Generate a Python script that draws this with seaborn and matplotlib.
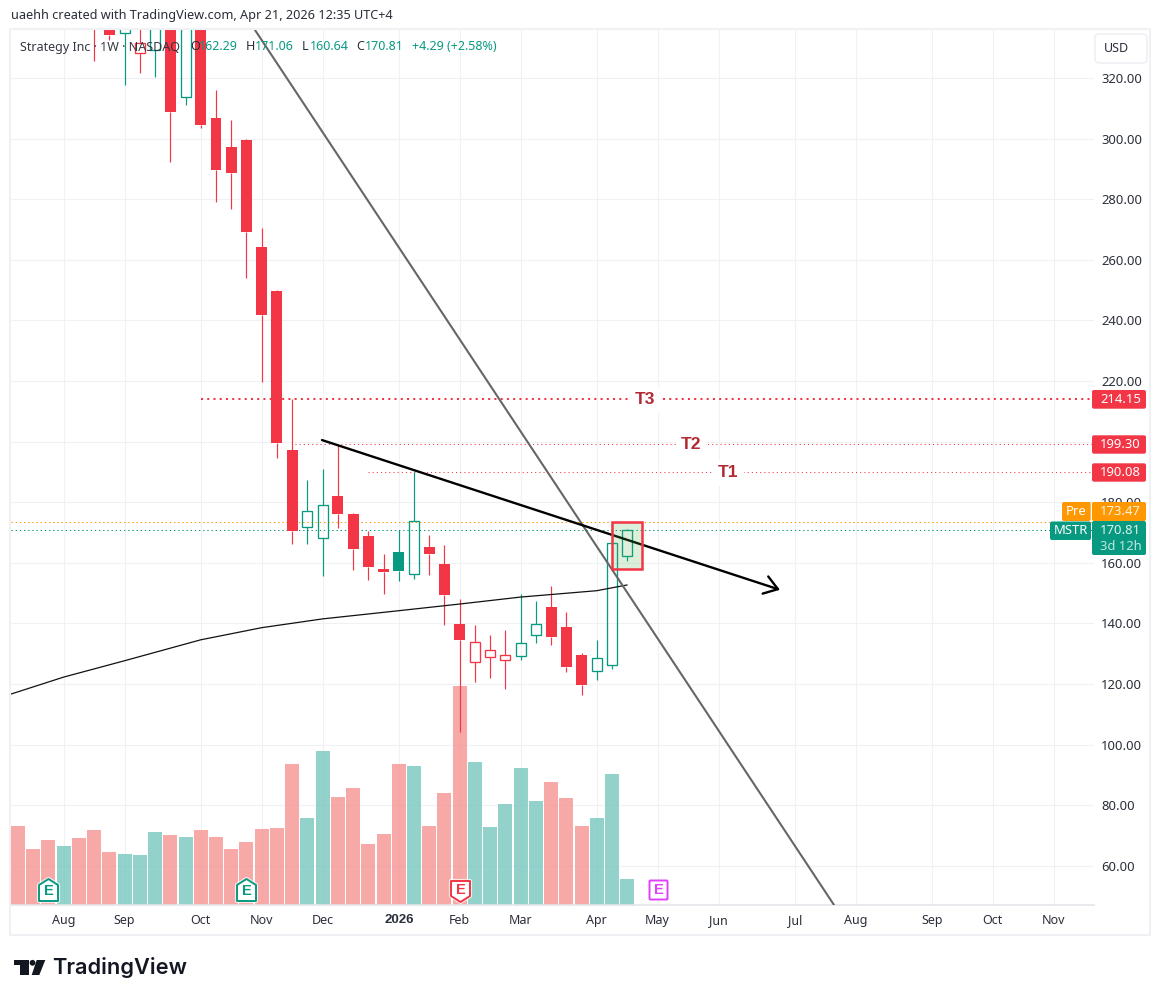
import matplotlib
matplotlib.use("Agg")
import matplotlib.pyplot as plt
from matplotlib.patches import Rectangle, Polygon, FancyBboxPatch, Circle
import pandas as pd
import seaborn as sns

W, H = 1161, 1001

# ---- data ----
vol_bar = list(range(41))
volume = [79, 56, 65, 59, 67, 75, 53, 51, 50, 73, 70, 68, 75, 68, 56, 63, 76, 77, 141, 87, 154,
          108, 117, 61, 71, 141, 139, 79, 112, 219, 143, 78, 101, 137, 104, 123, 107, 79, 87, 131, 26]
vol_dir = ["d","d","d","u","d","d","d","u","u","u","d","u","d","d","d","d","d","d","d","u","u",
           "d","d","d","d","d","u","d","d","d","u","u","u","u","u","d","d","d","u","u","u"]

candle_bar = list(range(5, 41))
opens = [345, 340, 334.7, 328.1, 329.2, 350, 313.6, 350, 306.8, 297.2, 299.5, 264.2, 249.7, 197.2,
         171.7, 168.1, 182.1, 176.1, 168.9, 158, 163.6, 156.2, 165.2, 159.6, 139.8, 127.4, 128.9,
         127.9, 129.2, 136.1, 145.4, 138.9, 129.6, 124.4, 126.4, 162.29]
closes = [338, 334.3, 338, 331.6, 345, 308.9, 350, 304.6, 289.6, 288.7, 269.3, 241.9, 199.6, 170.4,
          177, 179, 176.1, 164.6, 158.6, 157, 157.2, 173.7, 162.9, 149.4, 134.6, 133.8, 131.2,
          129.5, 133.5, 139.7, 135.6, 125.7, 119.7, 128.5, 166.5, 170.81]
highs = [350, 345, 345, 345, 350, 352, 352, 352, 316, 306.1, 299.7, 270.5, 250, 214.1,
         187.3, 191, 198.9, 176.4, 170.6, 162.9, 170.9, 190, 169.2, 165.9, 148.1, 139.5, 136.2,
         137.9, 149.7, 147.4, 152.4, 143.8, 130.3, 134.6, 173.1, 171.06]
lows = [325.6, 332.6, 317.8, 321.7, 320.4, 292.4, 311.2, 303.6, 279.2, 276.9, 254.1, 219.7, 194.6, 166.2,
        166.2, 155.8, 171.5, 157.7, 154.4, 149.7, 154, 154.7, 156, 139.5, 104.2, 120.7, 122.1,
        118.4, 128.1, 133.6, 132.9, 124, 116.4, 121.4, 125, 160.64]

ma_bar = [-0.46, 3, 7, 12, 16, 20, 25, 29, 33, 38, 40]
ma_val = [116.7, 122.3, 127.7, 134.6, 138.6, 141.5, 144.2, 146.4, 148.7, 150.8, 152.7]

grey_line_bar = [15.56, 53.58]
grey_line_val = [335.8, 47.1]
black_line_bar = [19.96, 50.03]
black_line_val = [200.5, 151.1]

t3_level, t2_level, t1_level = 214.15, 199.30, 190.08
pre_level, last_level = 173.47, 170.81
box_bar = [39.0, 40.97]
box_val = [158.0, 173.5]

price_ticks = [60, 80, 100, 120, 140, 160, 180, 220, 240, 260, 280, 300, 320]
price_labels = ["60.00", "80.00", "100.00", "120.00", "140.00", "160.00", "180.00", "220.00",
                "240.00", "260.00", "280.00", "300.00", "320.00"]
grid_prices = [60, 80, 100, 120, 140, 160, 180, 200, 220, 240, 260, 280, 300, 320]
time_ticks = [3, 7, 12, 16, 20, 25, 29, 33, 38, 42, 46, 51, 55, 60, 64, 68]
time_labels = ["Aug", "Sep", "Oct", "Nov", "Dec", "2026", "Feb", "Mar", "Apr", "May", "Jun", "Jul",
               "Aug", "Sep", "Oct", "Nov"]

# ---- styling ----
RED, GREEN = "#F23645", "#089981"
GRID = "#F0F1F4"
sns.set_theme(style="white")
plt.rcParams["font.family"] = ["Noto Sans", "DejaVu Sans"]
FS = 9.0
FS_P = 9.4
INK = "#2A2E39"
BOLD = "Liberation Sans"

fig = plt.figure(figsize=(W / 100, H / 100), dpi=100, facecolor="white")
L, R, T, B = 11, 1094, 30, 905
rect = [L / W, 1 - B / H, (R - L) / W, (B - T) / H]
XLIM = (-0.46, 70.65)
YLIM = (47.1, 335.8)

# volume pane (bottom layer, carries the grid)
ax_vol = fig.add_axes(rect, zorder=1)
df = pd.DataFrame({"bar": vol_bar, "volume": volume, "dir": vol_dir})
sns.barplot(data=df, x="bar", y="volume", hue="dir", palette={"d": "#F59491", "u": "#77C7BF"},
            dodge=False, native_scale=True, width=0.92, saturation=1, linewidth=0, alpha=0.8,
            legend=False, ax=ax_vol)
ax_vol.set_xlim(*XLIM)
ax_vol.set_ylim(0, B - T)
ax_vol.set_xticks(time_ticks)
ax_vol.set_yticks([(p - YLIM[0]) * (B - T) / (YLIM[1] - YLIM[0]) for p in grid_prices])
ax_vol.set_xticklabels([])
ax_vol.set_yticklabels([])
ax_vol.set_xlabel("")
ax_vol.set_ylabel("")
ax_vol.set_axisbelow(True)
ax_vol.grid(True, color=GRID, lw=0.8)
ax_vol.tick_params(length=0)
for s in ax_vol.spines.values():
    s.set_visible(False)

# price pane
ax = fig.add_axes(rect, zorder=2)
ax.patch.set_visible(False)
ax.set_xlim(*XLIM)
ax.set_ylim(*YLIM)
prev = None
for x, o, h, l, c in zip(candle_bar, opens, highs, lows, closes):
    col = RED if (prev is not None and c < prev) or (prev is None) else GREEN
    top, bot = max(o, c), min(o, c)
    ax.plot([x, x], [top, h], color=col, lw=0.85, zorder=3, solid_capstyle="butt")
    ax.plot([x, x], [l, bot], color=col, lw=0.85, zorder=3, solid_capstyle="butt")
    if c > o:
        ax.bar(x, top - bot, bottom=bot, width=0.66, facecolor="none", edgecolor=col, lw=0.95, zorder=3)
    else:
        ax.bar(x, max(top - bot, 0.5), bottom=bot, width=0.72, facecolor=col, edgecolor=col, lw=0, zorder=3)
    prev = c

ax.plot(ma_bar, ma_val, color="#111111", lw=0.9, zorder=4)
ax.plot(grey_line_bar, grey_line_val, color="#666666", lw=1.5, zorder=4.5)
ax.annotate("", xy=(black_line_bar[1], black_line_val[1]), xytext=(black_line_bar[0], black_line_val[0]),
            arrowprops=dict(arrowstyle="->,head_length=9.5,head_width=6.5", mutation_scale=1, color="black",
                            lw=1.7, shrinkA=0, shrinkB=0), zorder=4.6)

def dotted(x0, x1, y, col, lw, pat, z=2.5):
    ax.plot([x0, x1], [y, y], color=col, lw=lw, linestyle=(0, pat), zorder=z)

dotted(12.02, XLIM[1], t3_level, RED, 1.45, (1, 2.1))
dotted(18.2, XLIM[1], t2_level, RED, 0.75, (1, 3))
dotted(22.98, 70.4, t1_level, RED, 0.75, (1, 3))
dotted(XLIM[0], XLIM[1], pre_level, "#FF9800", 0.75, (1.3, 2.7))
dotted(XLIM[0], XLIM[1], last_level, GREEN, 0.75, (1.3, 2.7))

for x, y, s in [(41.15, t3_level, "T3"), (44.2, t2_level, "T2"), (46.65, t1_level, "T1")]:
    ax.text(x, y - 0.4, s, color="#B22833", fontsize=12.5, family=BOLD, fontweight="bold", ha="center", va="center", zorder=2.7,
            bbox=dict(facecolor="white", edgecolor="none", boxstyle="square,pad=0.3"))

ax.add_patch(Rectangle((box_bar[0], box_val[0]), box_bar[1] - box_bar[0], box_val[1] - box_val[0],
                       facecolor=(0.30, 0.69, 0.31, 0.2), edgecolor=RED, lw=1.8, zorder=5))

ax.yaxis.tick_right()
ax.set_yticks(price_ticks)
ax.set_yticklabels(price_labels, fontsize=FS_P, color=INK)
ax.set_xticks(time_ticks)
ax.set_xticklabels(time_labels, fontsize=FS, color=INK)
for lab in ax.get_xticklabels():
    if lab.get_text() == "2026":
        lab.set_family(BOLD)
        lab.set_fontweight("bold")
        lab.set_fontsize(9.5)
ax.tick_params(axis="y", length=0, pad=5)
ax.tick_params(axis="x", length=0, pad=6.5)
for name, s in ax.spines.items():
    s.set_visible(name == "bottom")
    s.set_color("#E4E5EA")
    s.set_linewidth(1.2)

# overlay in picture pixels: frame, tags, badges, logo, caption
ov = fig.add_axes([0, 0, 1, 1], zorder=10)
ov.set_xlim(0, W)
ov.set_ylim(H, 0)
ov.axis("off")
ov.patch.set_visible(False)

ov.add_patch(Rectangle((L - 1, T - 1), 1150 - L + 1, 935 - T + 1, facecolor="none", edgecolor="#F0F1F4", lw=1.5))

def text(x, y, s, col=INK, size=FS, ha="left", **k):
    ov.text(x, y, s, color=col, fontsize=size, ha=ha, va="center", **k)

text(11, 16, "uaehh created with TradingView.com, Apr 21, 2026 12:35 UTC+4", "#2A2E39", 9.15)
TXT_G = "#089981"
text(20, 47, "Strategy Inc · 1W · NASDAQ", INK, FS, alpha=0.95)
for x, lab, val in [(190, "O", "162.29"), (246, "H", "171.06"), (302, "L", "160.64"), (356, "C", "170.81")]:
    text(x, 47, lab, INK, FS)
    text(x + (9 if lab != "L" else 7.5), 47, val, TXT_G, FS)
text(412, 47, "+4.29 (+2.58%)", TXT_G, FS)

def tag(x0, y0, x1, y1, col):
    ov.add_patch(FancyBboxPatch((x0 + 1, y0 + 1), x1 - x0 - 2, y1 - y0 - 2, boxstyle="round,pad=1,rounding_size=2",
                                facecolor=col, edgecolor="none"))

for y0, y1, s in [(390, 408.7, "214.15"), (435.3, 453.7, "199.30"), (463.3, 481.7, "190.08")]:
    tag(1092, y0, 1146, y1, RED)
    text(1120.5, (y0 + y1) / 2, s, "white", FS_P, ha="center")
tag(1092, 502, 1146, 521, "#FF9800")
text(1120.5, 511.5, "173.47", "#FFF3E0", FS_P, ha="center")
tag(1062, 502, 1090.7, 521, "#FF9800")
text(1076.5, 511.5, "Pre", "white", FS_P, ha="center")
tag(1092, 521, 1146, 555, GREEN)
text(1120.5, 530.5, "170.81", "#E0F2EF", FS_P, ha="center")
text(1120.5, 546, "3d 12h", "#BFE5DF", FS_P, ha="center")
tag(1050, 521.5, 1091, 540, GREEN)
text(1070.5, 531, "MSTR", "white", FS_P, ha="center")

ov.add_patch(FancyBboxPatch((1097, 36), 48, 25, boxstyle="round,pad=2,rounding_size=4", facecolor="white",
                            edgecolor="#ECEDF1", lw=1.0))
text(1116.5, 48, "USD", INK, FS, ha="center")

def badge(cx, up, col, fill="white"):
    if up:
        pts = [(cx - 9.5, 885), (cx, 879), (cx + 9.5, 885), (cx + 9.5, 901), (cx - 9.5, 901)]
    else:
        pts = [(cx - 9.5, 881), (cx + 9.5, 881), (cx + 9.5, 896), (cx, 902), (cx - 9.5, 896)]
    ov.add_patch(Polygon(pts, closed=True, facecolor="white", edgecolor="white", lw=3, alpha=0.75, joinstyle="round"))
    ov.add_patch(Polygon(pts, closed=True, facecolor=fill, edgecolor=col, lw=1.4, joinstyle="round"))
    text(cx, 891 if up else 890, "E", col, 10.5, ha="center", family=BOLD, fontweight="bold")

badge(48.5, True, GREEN)
badge(246.5, True, GREEN)
badge(460.5, False, RED)
ov.add_patch(FancyBboxPatch((650, 881), 17, 18, boxstyle="round,pad=0.5,rounding_size=1", facecolor="white",
                            edgecolor="#E040FB", lw=1.4))
text(658.5, 890, "E", "#E040FB", 10.5, ha="center", family=BOLD, fontweight="bold")

# TradingView logo
ov.add_patch(Polygon([(14, 960), (29, 960), (29, 975), (20, 975), (20, 965), (14, 965)], closed=True, facecolor="#131722", edgecolor="none"))
ov.add_patch(Circle((32.5, 962.8), 2.9, facecolor="#131722", edgecolor="none"))
ov.add_patch(Polygon([(36.7, 960), (45.3, 960), (39.3, 975), (31.7, 975)], closed=True, facecolor="#131722", edgecolor="none"))
ov.text(52.5, 968, "TradingView", color="#131722", fontsize=15.7, family="Inter", fontweight="semibold", ha="left", va="center")

fig.savefig("out.png", dpi=100)
